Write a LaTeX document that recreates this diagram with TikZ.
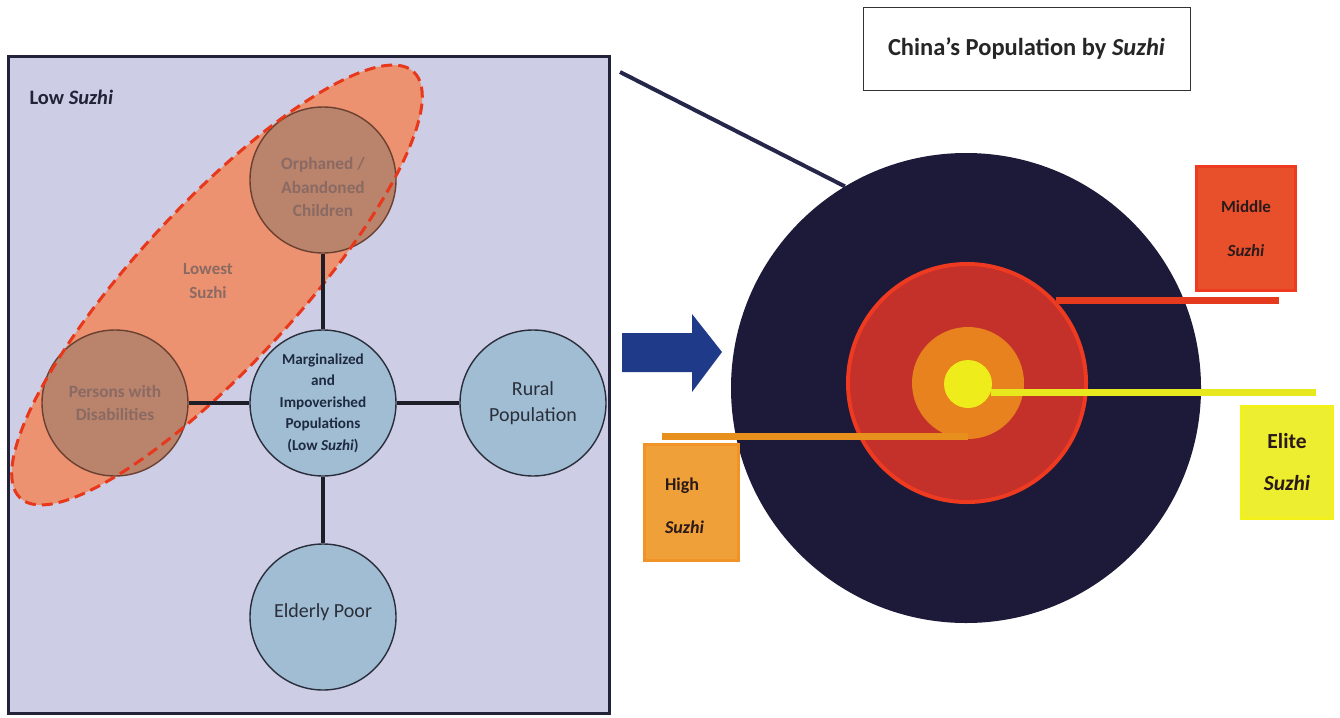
\documentclass[tikz,border=0pt]{standalone}
\usepackage{fontspec}
\setmainfont{Carlito}
\definecolor{panelbg}{HTML}{CDCDE6}
\definecolor{panelline}{HTML}{222238}
\definecolor{bubblefill}{HTML}{A0BDD3}
\definecolor{bubbleline}{HTML}{2A2E3A}
\definecolor{bubbletext}{HTML}{1E2A40}
\definecolor{plaintext}{HTML}{2A2F3A}
\definecolor{lowestfill}{HTML}{EC9270}
\definecolor{lowestdash}{HTML}{E8381C}
\definecolor{lowfill}{HTML}{B9836C}
\definecolor{lowline}{HTML}{6B4030}
\definecolor{lowtext}{HTML}{8A6A62}
\definecolor{connline}{HTML}{1E1E28}
\definecolor{disc}{HTML}{1C1A38}
\definecolor{midfill}{HTML}{C4302A}
\definecolor{midline}{HTML}{EE3A20}
\definecolor{highfill}{HTML}{E8821E}
\definecolor{elitefill}{HTML}{EEEC1A}
\definecolor{midbar}{HTML}{E63A1E}
\definecolor{elitebar}{HTML}{E8E81E}
\definecolor{highbar}{HTML}{E8901E}
\definecolor{midbox}{HTML}{E8502C}
\definecolor{eliteboxfill}{HTML}{EEEE30}
\definecolor{eliteboxline}{HTML}{F2F21A}
\definecolor{highboxfill}{HTML}{F0A038}
\definecolor{highboxline}{HTML}{F09428}
\definecolor{arrowblue}{HTML}{1F3A88}
\definecolor{leadline}{HTML}{26264A}
\definecolor{tagtext}{HTML}{2A1A1A}
\begin{document}
\begin{tikzpicture}[x=1pt,y=-1pt,
  bubble/.style={circle, draw=bubbleline, line width=1.4pt, fill=bubblefill,
    minimum size=146pt, inner sep=0pt, align=center},
  corebubble/.style={bubble, text=bubbletext, font=\fontsize{15.2}{21.5}\selectfont\bfseries},
  plainfont/.style={text=plaintext, font=\fontsize{20}{26}\selectfont},
  plainbubble/.style={bubble, plainfont},
  lowfont/.style={text=lowtext, font=\fontsize{17.3}{23.5}\selectfont\bfseries},
  lowbubble/.style={bubble, fill=lowfill, draw=lowline, lowfont},
  conn/.style={draw=connline, line width=4pt},
  bar/.style={line width=7pt},
  tag/.style={rectangle, line width=3pt, inner sep=0pt, align=center, text=tagtext},
  ring/.style={circle, inner sep=0pt}
]
\useasboundingbox (0,0) rectangle (1340,717);
\fill[white] (0,0) rectangle (1340,717);

% ---- left panel: low suzhi groups ----
\draw[fill=panelbg, draw=panelline, line width=3pt] (8,57) rectangle (609,713);
\node[anchor=base west, font=\fontsize{20.5}{24}\selectfont\bfseries, text=panelline]
  (lowlbl) at (26,104) {Low \textit{Suzhi}};

% highlighted group
\fill[lowestfill] (217,285) ellipse [x radius=290, y radius=80, rotate=47.3];

\node[lowbubble, label={[lowfont, align=center, yshift=-7pt]center:Orphaned /\\Abandoned\\Children}]
  (orph) at (323,180) {};
\node[lowbubble] (dis) at (115,403) {Persons with\\Disabilities};
\node[align=center, text=lowtext, font=\fontsize{17}{24}\selectfont\bfseries]
  (lowest) at (208,281) {Lowest\\Suzhi};

\draw[lowestdash, line width=3pt, dash pattern=on 11pt off 6pt]
  (217,285) ellipse [x radius=290, y radius=80, rotate=47.3];

\node[corebubble] (core) at (323,403)
  {Marginalized\\and\\Impoverished\\Populations\\(Low \textit{Suzhi})};
\node[plainbubble] (rural) at (533,403) {Rural\\Population};
\node[bubble, label={[plainfont, yshift=5pt]center:Elderly Poor}] (elder) at (323,617) {};

\draw[conn] (orph) -- (core);
\draw[conn] (dis) -- (core);
\draw[conn] (core) -- (rural);
\draw[conn] (core) -- (elder);

% ---- right side: population rings ----
\node[rectangle, draw=black!80, line width=1pt, minimum width=327pt, minimum height=82pt,
  font=\fontsize{24.5}{28}\selectfont\bfseries, text=black!85] (title) at (1026.5,49)
  {China's Population by \textit{Suzhi}};

\node[ring, fill=disc, minimum size=470pt] (outer) at (966,388) {};
\node[ring, fill=midfill, draw=midline, line width=4pt, minimum size=238pt] (midring) at (967,383) {};
\node[ring, fill=highfill, minimum size=112pt] (highring) at (968,383) {};
\node[ring, fill=elitefill, minimum size=48pt] (elitecore) at (968,384) {};

\coordinate (lead) at (620,72);
\draw[leadline, line width=4pt] (lead) -- (outer.121);

\fill[arrowblue] (622,333) -- (692,333) -- (692,314) -- (722,352) -- (692,392)
  -- (692,372) -- (622,372) -- cycle;

\coordinate (midend) at (1279,300);
\coordinate (eliteend) at (1316,392.5);
\coordinate (highend) at (662,436.5);
\draw[bar, midbar] (midring.43) -- (midring.43 -| midend);
\draw[bar, elitebar] (elitecore.-20) -- (elitecore.-20 -| eliteend);
\draw[bar, highbar] (highend) -- (highend -| highring.south);

\node[tag, fill=midbox, draw=midline, minimum width=99pt, minimum height=124pt,
  font=\fontsize{17}{44}\selectfont\bfseries] (midtag) at (1246,228.5) {Middle\\\textit{Suzhi}};
\node[tag, fill=eliteboxfill, draw=eliteboxline, minimum width=91pt, minimum height=112pt,
  font=\fontsize{21.5}{42}\selectfont\bfseries] (elitetag) at (1287,462) {Elite\\\textit{Suzhi}};
\node[tag, fill=highboxfill, draw=highboxline, minimum width=94pt, minimum height=116pt,
  label={[text=tagtext, font=\fontsize{18}{43}\selectfont\bfseries, align=left, yshift=-3pt, xshift=-7pt]center:High\\\textit{Suzhi}}]
  (hightag) at (691.5,502.5) {};
\end{tikzpicture}
\end{document}
